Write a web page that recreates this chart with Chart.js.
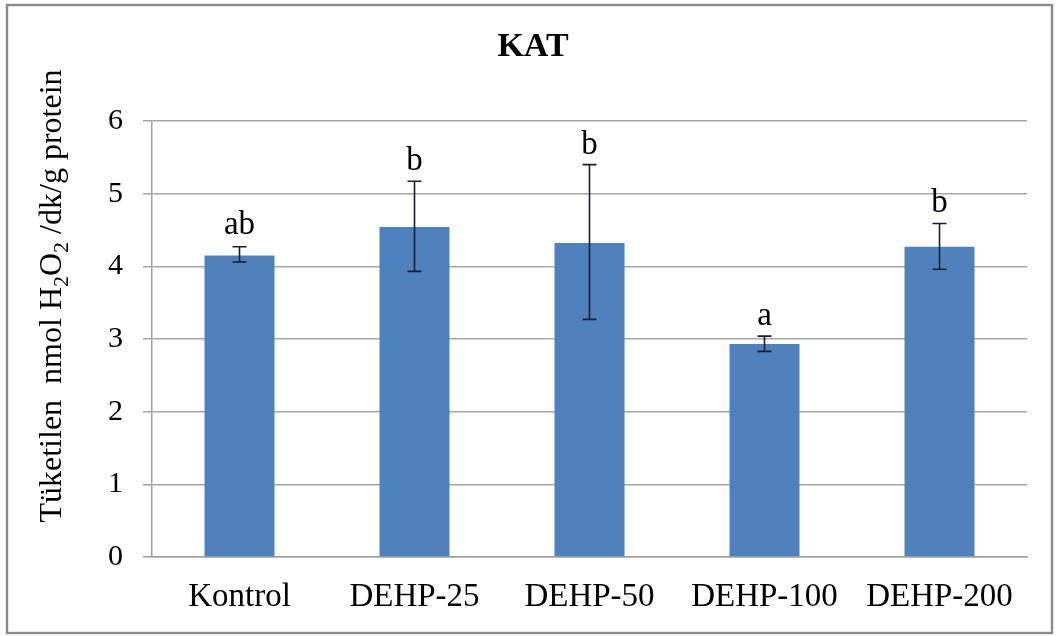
<!DOCTYPE html>
<html>
<head>
<meta charset="utf-8">
<script src="https://cdn.jsdelivr.net/npm/chart.js@4.4.0/dist/chart.umd.min.js"></script>
<style>
  html, body { margin: 0; padding: 0; background: #ffffff; }
  #wrap { width: 1057px; height: 636px; position: relative; }
</style>
</head>
<body>
<div id="wrap"><canvas id="c" width="1057" height="636"></canvas></div>
<script>
// ---- data ----
const categories = ['Kontrol', 'DEHP-25', 'DEHP-50', 'DEHP-100', 'DEHP-200'];
const means = [4.15, 4.54, 4.32, 2.93, 4.27];
const errLow = [4.06, 3.93, 3.27, 2.83, 3.96];
const errHigh = [4.27, 5.17, 5.40, 3.04, 4.59];
const sigLetters = ['ab', 'b', 'b', 'a', 'b'];
const yTicks = [0, 1, 2, 3, 4, 5, 6];
const chartTitle = 'KAT';
const yTitleParts = [
  { t: 'Tüketilen  nmol H', sub: false },
  { t: '2', sub: true },
  { t: 'O', sub: false },
  { t: '2', sub: true },
  { t: ' /dk/g protein', sub: false }
];

const SERIF = '"Liberation Serif", "Times New Roman", serif';

const framePlugin = {
  id: 'frame',
  beforeDraw(chart) {
    const ctx = chart.ctx;
    ctx.save();
    ctx.fillStyle = '#ffffff';
    ctx.fillRect(0, 0, chart.width, chart.height);
    ctx.strokeStyle = '#8a8a8a';
    ctx.lineWidth = 2.4;
    ctx.strokeRect(7, 5, 1045, 628);
    ctx.restore();
  }
};

const errorPlugin = {
  id: 'errbars',
  afterDatasetsDraw(chart) {
    const ctx = chart.ctx;
    const meta = chart.getDatasetMeta(0);
    const y = chart.scales.y;
    ctx.save();
    ctx.strokeStyle = '#1b1e2b';
    ctx.lineWidth = 1.6;
    meta.data.forEach((bar, i) => {
      const x = bar.x;
      const yH = y.getPixelForValue(errHigh[i]);
      const yL = y.getPixelForValue(errLow[i]);
      ctx.beginPath();
      ctx.moveTo(x, yH); ctx.lineTo(x, yL);
      ctx.moveTo(x - 7, yH); ctx.lineTo(x + 7, yH);
      ctx.moveTo(x - 7, yL); ctx.lineTo(x + 7, yL);
      ctx.stroke();
      ctx.fillStyle = '#000000';
      ctx.font = '33px ' + SERIF;
      ctx.textAlign = 'center';
      ctx.textBaseline = 'alphabetic';
      ctx.fillText(sigLetters[i], x, yH - (i === 0 ? 13 : 11));
    });
    ctx.restore();
  }
};

const yTitlePlugin = {
  id: 'ytitle',
  afterDraw(chart) {
    const ctx = chart.ctx;
    const big = '32px ' + SERIF;
    const small = '22px ' + SERIF;
    ctx.save();
    let total = 0;
    yTitleParts.forEach(p => { ctx.font = p.sub ? small : big; total += ctx.measureText(p.t).width; });
    const cx = 61;     // baseline x
    const cy = 296;    // center along axis
    ctx.translate(cx, cy);
    ctx.rotate(-Math.PI / 2);
    ctx.fillStyle = '#000000';
    ctx.textBaseline = 'alphabetic';
    ctx.textAlign = 'left';
    let x = -total / 2;
    yTitleParts.forEach(p => {
      ctx.font = p.sub ? small : big;
      ctx.fillText(p.t, x, p.sub ? 7 : 0);
      x += ctx.measureText(p.t).width;
    });
    ctx.restore();
  }
};

new Chart(document.getElementById('c'), {
  type: 'bar',
  data: {
    labels: categories,
    datasets: [{
      data: means,
      backgroundColor: '#4f81bd',
      borderWidth: 0,
      barPercentage: 0.4,
      categoryPercentage: 1.0
    }]
  },
  options: {
    responsive: false,
    animation: false,
    devicePixelRatio: 1,
    layout: { padding: { left: 39, right: 30, top: 0, bottom: 0 } },
    plugins: {
      legend: { display: false },
      tooltip: { enabled: false },
      title: {
        display: true,
        text: chartTitle,
        color: '#000000',
        font: { family: SERIF, size: 34, weight: 'bold', lineHeight: 1.2 },
        padding: { top: 27, bottom: 53.2 }
      }
    },
    scales: {
      x: {
        grid: { display: false, drawTicks: false },
        border: { display: true, color: '#a0a0a0', width: 1.5 },
        ticks: {
          color: '#000000',
          font: { family: SERIF, size: 33, lineHeight: 1.2 },
          padding: 21,
          maxRotation: 0,
          autoSkip: false
        },
        afterFit(scale) { scale.height = 79; }
      },
      y: {
        min: 0,
        max: 6,
        afterBuildTicks(scale) { scale.ticks = yTicks.map(v => ({ value: v })); },
        grid: { color: '#a6a6a6', lineWidth: 1.5, drawTicks: true, tickLength: 9, tickColor: '#a0a0a0' },
        border: { display: true, color: '#a0a0a0', width: 1.5 },
        ticks: {
          color: '#000000',
          font: { family: SERIF, size: 30, lineHeight: 1.2 },
          padding: 20,
          stepSize: 1
        },
        afterFit(scale) { scale.width = 113; }
      }
    }
  },
  plugins: [framePlugin, errorPlugin, yTitlePlugin]
});
</script>
</body>
</html>
